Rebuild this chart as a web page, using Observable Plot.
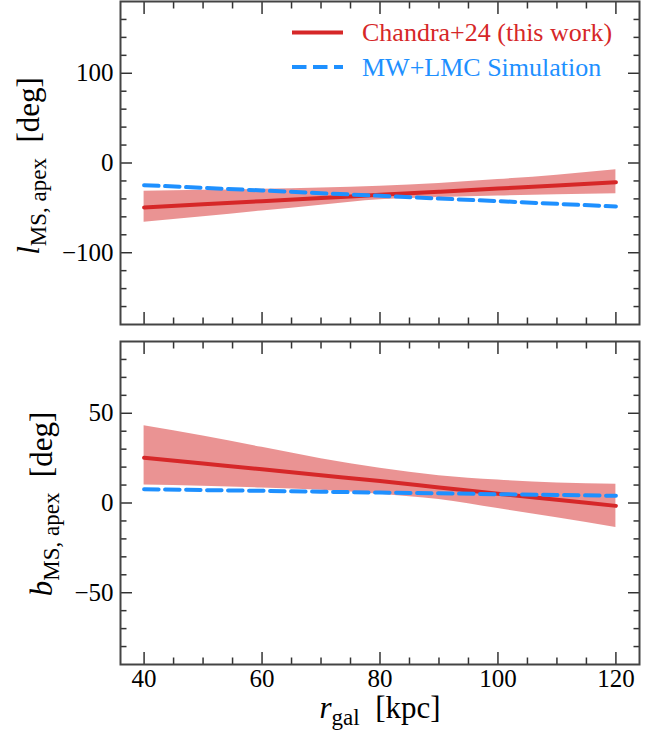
<!DOCTYPE html>
<html>
<head>
<meta charset="utf-8">
<script src="https://cdn.jsdelivr.net/npm/d3@7"></script>
<script src="https://cdn.jsdelivr.net/npm/@observablehq/plot@0.6"></script>
<style>
  body { margin: 0; background: #fff; }
  #chart { width: 663px; }
  #chart svg { display: block; font-family: "Liberation Serif", "DejaVu Serif", serif !important; }
</style>
</head>
<body>
<div id="chart"></div>
<script>
// ---- data ----
const rGal        = [40, 50, 60, 70, 80, 90, 100, 110, 120];

// top panel: l_MS,apex [deg]
const lChandra    = [-49.6, -46.0, -42.5, -39.0, -35.5, -32.0, -28.5, -25.0, -21.4];
const lChandraLo  = [-66.0, -60.0, -53.5, -47.0, -41.0, -38.5, -36.8, -35.5, -34.4];
const lChandraHi  = [-31.4, -30.4, -29.3, -28.0, -25.8, -22.9, -18.5, -13.6, -7.6];
const lSim        = [-24.7, -27.7, -30.6, -33.6, -36.6, -39.6, -42.5, -45.5, -48.5];

// bottom panel: b_MS,apex [deg]
const bChandra    = [25.2, 22.0, 18.8, 15.5, 12.2, 8.7, 5.2, 1.8, -1.6];
const bChandraLo  = [10.1, 9.4, 8.4, 7.1, 4.9, 1.9, -3.1, -8.2, -13.6];
const bChandraHi  = [43.0, 37.4, 31.0, 24.6, 19.3, 15.2, 12.8, 11.2, 10.5];
const bSim        = [7.7, 7.2, 6.8, 6.3, 5.8, 5.4, 4.9, 4.5, 4.0];

// ticks
const xMajor      = [40, 60, 80, 100, 120];
const xMajorLabels = ["40", "60", "80", "100", "120"];
const xMinor      = [45, 50, 55, 65, 70, 75, 85, 90, 95, 105, 110, 115];
const lMajor      = [-100, 0, 100];
const lMajorLabels = ["\u2212100", "0", "100"];
const lMinor      = [-160, -140, -120, -80, -60, -40, -20, 20, 40, 60, 80, 120, 140, 160];
const bMajor      = [-50, 0, 50];
const bMajorLabels = ["\u221250", "0", "50"];
const bMinor      = [-80, -70, -60, -40, -30, -20, -10, 10, 20, 30, 40, 60, 70, 80];

const legendLabels = ["Chandra+24 (this work)", "MW+LMC Simulation"];

const RED = "#d62728";
const BLUE = "#1e90ff";
const TICK = "#333";

function rowsOf(mid, lo, hi, sim) {
  return rGal.map((r, i) => ({r, mid: mid[i], lo: lo[i], hi: hi[i], sim: sim[i]}));
}

function panel({rows, yDomain, yMajor, yMajorLabels, yMinor, height, marginTop, marginBottom, showXLabels}) {
  const xFmt = new Map(xMajor.map((d, i) => [d, xMajorLabels[i]]));
  const yFmt = new Map(yMajor.map((d, i) => [d, yMajorLabels[i]]));
  const tickCommon = {fill: "none", stroke: TICK, strokeWidth: 1.5};
  return Plot.plot({
    width: 663,
    height,
    marginLeft: 120,
    marginRight: 24,
    marginTop,
    marginBottom,
    style: "font-family: 'Liberation Serif', 'DejaVu Serif', serif; font-size: 25px; color: #000; background: #fff;",
    x: {domain: [36, 124]},
    y: {domain: yDomain},
    marks: [
      Plot.areaY(rows, {x: "r", y1: "lo", y2: "hi", fill: RED, fillOpacity: 0.5, curve: "monotone-x"}),
      Plot.lineY(rows, {x: "r", y: "mid", stroke: RED, strokeWidth: 4, curve: "monotone-x"}),
      Plot.lineY(rows, {x: "r", y: "sim", stroke: BLUE, strokeWidth: 4, strokeDasharray: "14.5,6.5"}),
      // inward ticks on all four sides
      Plot.axisX({anchor: "bottom", ticks: xMajor, tickSize: 12, insetBottom: 12, ...tickCommon}),
      Plot.axisX({anchor: "bottom", ticks: xMinor, tickSize: 6.5, insetBottom: 6.5, ...tickCommon}),
      Plot.axisX({anchor: "top", ticks: xMajor, tickSize: 12, insetTop: 12, ...tickCommon}),
      Plot.axisX({anchor: "top", ticks: xMinor, tickSize: 6.5, insetTop: 6.5, ...tickCommon}),
      Plot.axisY({anchor: "left", ticks: yMajor, tickSize: 12, insetLeft: 12, ...tickCommon}),
      Plot.axisY({anchor: "left", ticks: yMinor, tickSize: 6.5, insetLeft: 6.5, ...tickCommon}),
      Plot.axisY({anchor: "right", ticks: yMajor, tickSize: 12, insetRight: 12, ...tickCommon}),
      Plot.axisY({anchor: "right", ticks: yMinor, tickSize: 6.5, insetRight: 6.5, ...tickCommon}),
      // tick labels
      Plot.axisY({anchor: "left", ticks: yMajor, tickSize: 0, tickPadding: 7, label: null,
                  tickFormat: d => yFmt.get(d), fill: "#000"}),
      showXLabels
        ? Plot.axisX({anchor: "bottom", ticks: xMajor, tickSize: 0, tickPadding: 5, label: null,
                      tickFormat: d => xFmt.get(d), fill: "#000"})
        : null,
      Plot.frame({stroke: "#444", strokeWidth: 2})
    ]
  });
}

const topSvg = panel({
  rows: rowsOf(lChandra, lChandraLo, lChandraHi, lSim),
  yDomain: [-180, 180], yMajor: lMajor, yMajorLabels: lMajorLabels, yMinor: lMinor,
  height: 332, marginTop: 1, marginBottom: 8, showXLabels: false
});
const bottomSvg = panel({
  rows: rowsOf(bChandra, bChandraLo, bChandraHi, bSim),
  yDomain: [-90, 90], yMajor: bMajor, yMajorLabels: bMajorLabels, yMinor: bMinor,
  height: 403, marginTop: 9, marginBottom: 71, showXLabels: true
});

const chart = document.getElementById("chart");
chart.appendChild(topSvg);
chart.appendChild(bottomSvg);

// axis labels with italics and subscripts
function yLabel(svg, x, y, sym) {
  const t = d3.select(svg).append("text")
    .attr("transform", `translate(${x},${y}) rotate(-90)`)
    .attr("text-anchor", "middle")
    .attr("font-size", 31)
    .attr("fill", "#000");
  t.append("tspan").attr("font-style", "italic").text(sym);
  t.append("tspan").attr("font-size", 23).attr("dy", 7).text("MS, apex");
  t.append("tspan").attr("dy", -7).text("\u2002[deg]");
}
yLabel(topSvg, 39, 166, "l");
yLabel(bottomSvg, 52, 172, "b");

{
  const t = d3.select(bottomSvg).append("text")
    .attr("x", 380).attr("y", 386)
    .attr("text-anchor", "middle")
    .attr("font-size", 31)
    .attr("fill", "#000");
  t.append("tspan").attr("font-style", "italic").text("r");
  t.append("tspan").attr("font-size", 23).attr("dy", 7).text("gal");
  t.append("tspan").attr("dy", -7).text("\u2002[kpc]");
}

// legend
{
  const g = d3.select(topSvg).append("g").attr("font-size", 26).attr("text-anchor", "start");
  const items = [
    {label: legendLabels[0], color: RED, dash: null, y: 32.5},
    {label: legendLabels[1], color: BLUE, dash: "14.5,6.5", y: 67}
  ];
  for (const it of items) {
    g.append("line")
      .attr("x1", 292).attr("x2", 343).attr("y1", it.y).attr("y2", it.y)
      .attr("stroke", it.color).attr("stroke-width", 4)
      .attr("stroke-dasharray", it.dash);
    g.append("text")
      .attr("x", 362).attr("y", it.y + 8.8)
      .attr("fill", it.color)
      .text(it.label);
  }
}
</script>
</body>
</html>
